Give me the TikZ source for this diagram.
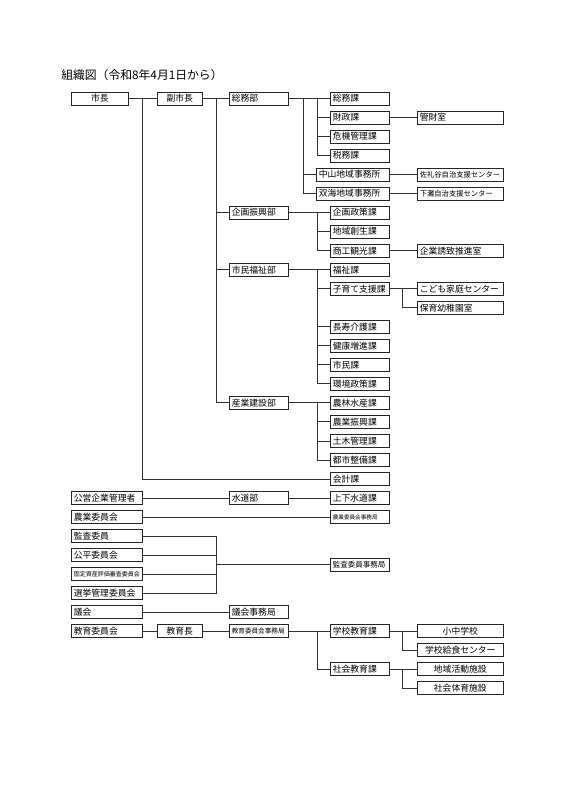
\documentclass[tikz,border=0pt]{standalone}
\usepackage{fontspec}
\setmainfont{Noto Sans CJK JP}
\usepackage{tikz}
\usetikzlibrary{positioning}

\newcommand{\boxfont}{\fontsize{8.8}{10}\selectfont}
\newcommand{\smallboxfont}[1]{\fontsize{#1}{#1}\selectfont}

\begin{document}
\begin{tikzpicture}[x=1pt,y=-19.02pt,line width=0.7pt,
	box/.style={rectangle,draw=black!85,minimum height=13pt,inner xsep=2.5pt,inner ysep=0pt,
		anchor=west,font=\boxfont},
	colA/.style={box,text width=52pt},
	colAA/.style={box,text width=66pt},
	colB/.style={box,text width=40pt},
	colC/.style={box,text width=54pt},
	colD/.style={box,text width=54pt},
	colDD/.style={box,text width=68pt},
	colE/.style={box,text width=81pt},
	mid/.style={align=center}]

	\path[use as bounding box,fill=white] (0,-5.179) rectangle (566,36.883);

	\node[anchor=west,inner sep=0pt,font=\fontsize{11.8}{13}\selectfont] (title) at (61,-1.236) {組織図（令和8年4月1日から）};

	% mayor and vice mayor
	\node[colA,mid] (mayor) at (71,0) {市長};
	\node[colB,mid] (vice) at (157,0) {副市長};

	% departments
	\node[colC] (soumu) at (229,0) {総務部};
	\node[colC] (kikaku) at (229,6) {企画振興部};
	\node[colC] (fukushibu) at (229,9) {市民福祉部};
	\node[colC] (sangyo) at (229,16) {産業建設部};

	% sections
	\node[colD] (soumuka) at (330,0) {総務課};
	\node[colD] (zaisei) at (330,1) {財政課};
	\node[colD] (kiki) at (330,2) {危機管理課};
	\node[colD] (zeimu) at (330,3) {税務課};
	\node[colDD] (nakayama) at (316,4) {中山地域事務所};
	\node[colDD] (futami) at (316,5) {双海地域事務所};
	\node[colD] (seisaku) at (330,6) {企画政策課};
	\node[colD] (sousei) at (330,7) {地域創生課};
	\node[colD] (shoko) at (330,8) {商工観光課};
	\node[colD] (fukushi) at (330,9) {福祉課};
	\node[colD] (kosodate) at (330,10) {子育て支援課};
	\node[colD] (choju) at (330,12) {長寿介護課};
	\node[colD] (kenko) at (330,13) {健康増進課};
	\node[colD] (shimin) at (330,14) {市民課};
	\node[colD] (kankyo) at (330,15) {環境政策課};
	\node[colD] (norin) at (330,16) {農林水産課};
	\node[colD] (shinko) at (330,17) {農業振興課};
	\node[colD] (doboku) at (330,18) {土木管理課};
	\node[colD] (toshi) at (330,19) {都市整備課};
	\node[colD] (kaikei) at (330,20) {会計課};

	% offices
	\node[colE] (kanzai) at (417,1) {管財室};
	\node[colE,font=\smallboxfont{7.3}] (sareidani) at (417,4) {佐礼谷自治支援センター};
	\node[colE,font=\smallboxfont{7.3}] (shimonada) at (417,5) {下灘自治支援センター};
	\node[colE] (kigyo) at (417,8) {企業誘致推進室};
	\node[colE] (kodomo) at (417,10) {こども家庭センター};
	\node[colE] (hoiku) at (417,11) {保育幼稚園室};

	% other bodies
	\node[colAA] (koei) at (71,21) {公営企業管理者};
	\node[colC] (suido) at (229,21) {水道部};
	\node[colD] (gesuido) at (330,21) {上下水道課};
	\node[colAA] (nogyoiin) at (71,22) {農業委員会};
	\node[colD,font=\smallboxfont{5.6}] (nogyojim) at (330,22) {農業委員会事務局};
	\node[colAA] (kansa) at (71,23) {監査委員};
	\node[colAA] (kohei) at (71,24) {公平委員会};
	\node[colAA,font=\smallboxfont{6}] (kotei) at (71,25) {固定資産評価審査委員会};
	\node[colAA] (senkyo) at (71,26) {選挙管理委員会};
	\node[colD,font=\smallboxfont{7.5}] (kansajim) at (330,24.5) {監査委員事務局};
	\node[colAA] (gikai) at (71,27) {議会};
	\node[colC] (gikaijim) at (229,27) {議会事務局};

	% education
	\node[colAA] (kyoiin) at (71,28) {教育委員会};
	\node[colB,mid] (kyoikucho) at (157,28) {教育長};
	\node[colC,font=\smallboxfont{6.6}] (kyoijim) at (229,28) {教育委員会事務局};
	\node[colD] (gakko) at (330,28) {学校教育課};
	\node[colD] (shakai) at (330,30) {社会教育課};
	\node[colE,mid] (shochu) at (417,28) {小中学校};
	\node[colE,mid] (kyushoku) at (417,29) {学校給食センター};
	\node[colE,mid] (katsudo) at (417,30) {地域活動施設};
	\node[colE,mid] (taiiku) at (417,31) {社会体育施設};

	% trunk points
	\coordinate (mayortrunk) at (142,0);
	\coordinate (vicetrunk) at (216,0);
	\coordinate (soumutrunk) at (303,0);
	\coordinate (soumubranch) at (317,0);
	\coordinate (kikakubranch) at (317,6);
	\coordinate (fukushibranch) at (317,9);
	\coordinate (kosodatebranch) at (402.5,10);
	\coordinate (sangyobranch) at (317,16);
	\coordinate (kansajoin) at (216,24.5);
	\coordinate (kyoibranch) at (317,28);
	\coordinate (gakkobranch) at (402.5,28);
	\coordinate (shakaibranch) at (402.5,30);

	\path[draw=black!80]
		(mayor) edge (vice)
		(vice) edge (soumu)
		(soumu) edge (soumuka)
		(zaisei) edge (kanzai)
		(nakayama) edge (sareidani)
		(futami) edge (shimonada)
		(kikaku) edge (seisaku)
		(shoko) edge (kigyo)
		(fukushibu) edge (fukushi)
		(kosodate) edge (kodomo)
		(sangyo) edge (norin)
		(koei) edge (suido)
		(suido) edge (gesuido)
		(nogyoiin) edge (nogyojim)
		(kansajoin) edge (kansajim)
		(gikai) edge (gikaijim)
		(kyoiin) edge (kyoikucho)
		(kyoikucho) edge (kyoijim)
		(kyoijim) edge (gakko)
		(gakko) edge (shochu)
		(shakai) edge (katsudo);

	\draw[black!80] (mayortrunk) |- (kaikei);
	\draw[black!80] (vicetrunk) |- (kikaku) (vicetrunk) |- (fukushibu) (vicetrunk) |- (sangyo);
	\draw[black!80] (soumutrunk) |- (nakayama) (soumutrunk) |- (futami);
	\draw[black!80] (soumubranch) |- (zaisei) (soumubranch) |- (kiki) (soumubranch) |- (zeimu);
	\draw[black!80] (kikakubranch) |- (sousei) (kikakubranch) |- (shoko);
	\foreach \sec in {kosodate,choju,kenko,shimin,kankyo}
		\draw[black!80] (fukushibranch) |- (\sec);
	\draw[black!80] (kosodatebranch) |- (hoiku);
	\foreach \sec in {shinko,doboku,toshi}
		\draw[black!80] (sangyobranch) |- (\sec);
	\foreach \com in {kansa,kohei,kotei,senkyo}
		\draw[black!80] (\com) -| (kansajoin);
	\draw[black!80] (kyoibranch) |- (shakai);
	\draw[black!80] (gakkobranch) |- (kyushoku);
	\draw[black!80] (shakaibranch) |- (taiiku);

\end{tikzpicture}
\end{document}
